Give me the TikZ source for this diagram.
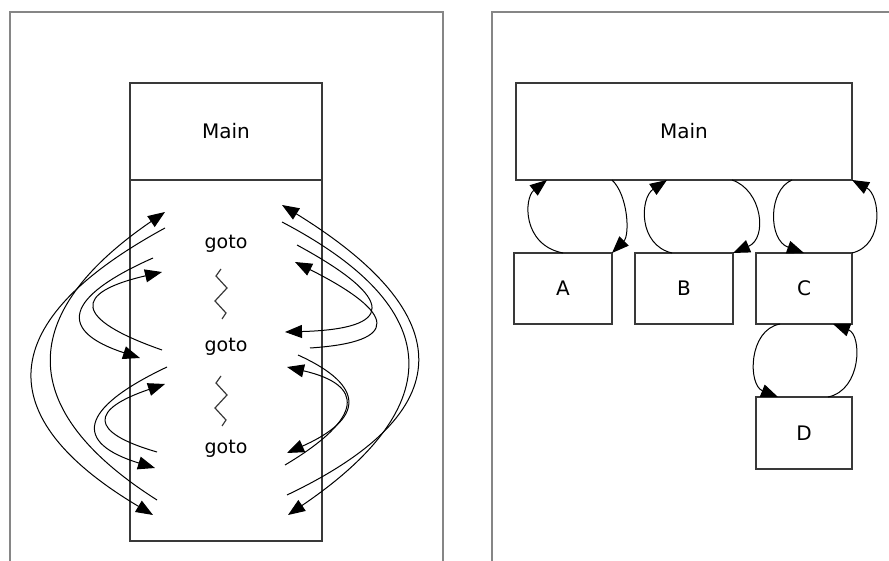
\documentclass[tikz,border=0pt]{standalone}
\usepackage{fontspec}
\setmainfont{DejaVu Sans}
\usetikzlibrary{arrows.meta,positioning}

\begin{document}
\begin{tikzpicture}[x=0.5pt,y=-0.5pt,
  frame/.style={draw=gray!95,line width=1.2pt},
  box/.style={draw=gray!45!black,line width=0.9pt,inner sep=0pt,outer sep=0pt,font=\fontsize{10}{12}\selectfont},
  jump/.style={-{Triangle[length=8.5pt,width=6.5pt]},line width=0.5pt},
  zz/.style={draw=gray!45!black,line width=0.6pt}]
\useasboundingbox (0,0) rectangle (889,561);

% frames
\draw[frame] (10,561) -- (10,12) -- (443,12) -- (443,561);
\draw[frame] (492,561) -- (492,12) -- (892,12);

% left: one Main with gotos
\node[box,minimum width=96pt,minimum height=48.5pt] (mainL) at (226,131.5) {Main};
\node[box,minimum width=96pt,minimum height=180.5pt,below=0pt of mainL] (body) {};
\node[font=\fontsize{9.5}{11}\selectfont] (g1) at (226,244) {goto};
\node[font=\fontsize{9.5}{11}\selectfont] (g2) at (226,347) {goto};
\node[font=\fontsize{9.5}{11}\selectfont] (g3) at (226,449) {goto};
\draw[zz] (221,269) -- ++(-5,7) -- ++(11,12) -- ++(-12,13) -- ++(11,12) -- ++(-4,6);
\draw[zz] (221,376) -- ++(-5,7) -- ++(11,12) -- ++(-12,13) -- ++(11,12) -- ++(-4,6);

\draw[jump] (165,228) .. controls (-7,321.7) and (-11,417.3) .. (153,515);
\draw[jump] (157,500) .. controls (14.3,409.3) and (17,313.3) .. (165,212);
\draw[jump] (153,258) .. controls (62.7,298) and (58.3,331.3) .. (140,358);
\draw[jump] (162,350) .. controls (72.7,318.7) and (72.7,292.7) .. (162,272);
\draw[jump] (167,367) .. controls (77.7,409.3) and (73.7,443) .. (155,468);
\draw[jump] (157,452) .. controls (87.7,432) and (90.3,409.3) .. (165,384);

\draw[jump] (287,495) .. controls (462,411.7) and (460.3,315) .. (282,205);
\draw[jump] (282,222) .. controls (446.7,308.3) and (448.7,406) .. (288,515);
\draw[jump] (297,245) .. controls (398.3,300) and (394.3,329) .. (285,332);
\draw[jump] (310,348) .. controls (401.7,342) and (396.7,313.3) .. (295,262);
\draw[jump] (298,355) .. controls (367,386.3) and (363.3,419) .. (287,453);
\draw[jump] (285,465) .. controls (364.3,417.7) and (365,385) .. (287,367);

% right: Main calling procedures
\node[box,minimum width=168pt,minimum height=48.5pt] (mainR) at (684,131.5) {Main};
\node[box,minimum width=49pt,minimum height=35.5pt] (A) at (563,288.5) {A};
\node[box,minimum width=49pt,minimum height=35.5pt] (B) at (684,288.5) {B};
\node[box,minimum width=48pt,minimum height=35.5pt] (C) at (804,288.5) {C};
\node[box,minimum width=48pt,minimum height=36pt,below=36.5pt of C] (D) {D};

\draw[jump] (A.north) .. controls (522,245) and (524,198) .. ([xshift=15.5pt]mainR.south west);
\draw[jump] ([xshift=48pt]mainR.south west) .. controls (628,195) and (630,235) .. (A.north east);
\draw[jump] ([xshift=-6pt]B.north) .. controls (638,245) and (640,198) .. ([xshift=75.5pt]mainR.south west);
\draw[jump] ([xshift=108pt]mainR.south west) .. controls (762,190) and (768,238) .. (B.north east);
\draw[jump] ([xshift=138pt]mainR.south west) .. controls (768,190) and (768,240) .. (C.north);
\draw[jump] (C.north east) .. controls (885,245) and (880,195) .. (mainR.south east);
\draw[jump] ([xshift=-12pt]C.south) .. controls (748,330) and (748,385) .. ([xshift=-13pt]D.north);
\draw[jump] ([xshift=12pt]D.north) .. controls (862,390) and (862,335) .. ([xshift=14.5pt]C.south);
\end{tikzpicture}
\end{document}
